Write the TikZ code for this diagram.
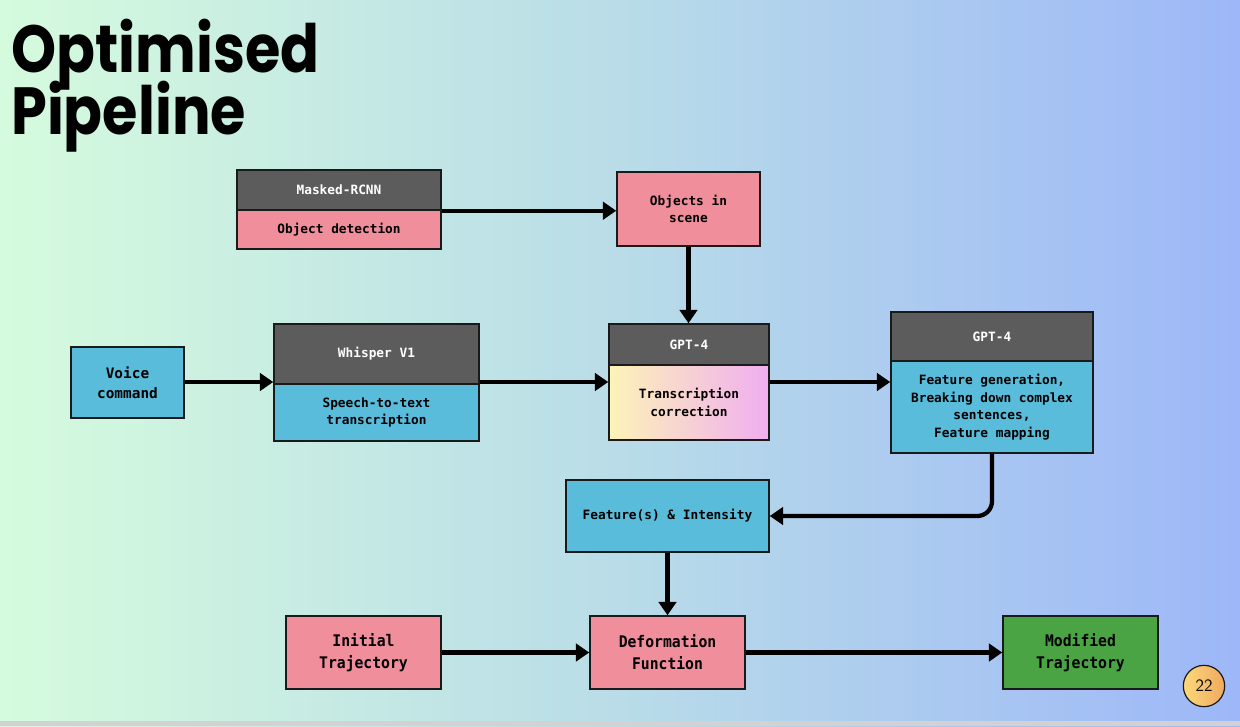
\documentclass[tikz,border=0pt]{standalone}
\usepackage{fontspec}
\setmonofont{DejaVu Sans Mono}
\newfontfamily\titlefont{Poppins}
\usetikzlibrary{arrows.meta,calc}
\definecolor{bgL}{HTML}{D5FBDE}
\definecolor{bgM}{HTML}{B9DCE8}
\definecolor{bgR}{HTML}{9DB7F8}
\definecolor{hdr}{HTML}{5C5C5C}
\definecolor{pinkbox}{HTML}{F08E9C}
\definecolor{bluebox}{HTML}{59BCDB}
\definecolor{greenbox}{HTML}{4AA444}
\definecolor{yelg}{HTML}{FDF3B8}
\definecolor{pnkg}{HTML}{F0AEF0}
\definecolor{circY}{HTML}{FCD97A}
\definecolor{circO}{HTML}{F0A860}
\definecolor{edge}{HTML}{1A1A1A}
\pgfdeclarehorizontalshading{bgshade}{100bp}{color(0bp)=(bgL); color(25bp)=(bgL); color(50bp)=(bgM); color(75bp)=(bgR); color(100bp)=(bgR)}
\tikzset{
  box/.style={draw=edge, line width=1.1pt, inner sep=0pt, align=center, font=\ttfamily\bfseries\fontsize{9.6}{13.2}\selectfont, text=black},
  hdrbox/.style={box, fill=hdr, text=white},
  pinkb/.style={box, fill=pinkbox},
  blueb/.style={box, fill=bluebox},
  greenb/.style={box, fill=greenbox},
  midtxt/.style={font=\ttfamily\bfseries\fontsize{10.8}{15}\selectfont},
  bigtxt/.style={font=\ttfamily\bfseries\fontsize{12}{16.5}\selectfont},
  arr/.style={line width=3.2pt, -{Triangle[length=10pt,width=13pt]}},
  titletxt/.style={anchor=base west, inner sep=0pt, font=\titlefont\bfseries\fontsize{50}{55}\selectfont}
}
\newcommand{\cond}[1]{\scalebox{0.92}[1]{#1}}
% \bx{name}{x1}{y1}{x2}{y2}{style}{text}
\newcommand{\bx}[7]{\node[#6, minimum width={(#4-#2)*0.75pt}, minimum height={(#5-#3)*0.75pt}] (#1) at ({(#2+#4)/2},{(#3+#5)/2}) {#7};}
\begin{document}
\begin{tikzpicture}[x=0.75pt,y=-0.75pt]
\useasboundingbox (0,0) rectangle (1240,726);
\shade[shading=bgshade] (0,0) rectangle (1240,726);
\fill[gray!35] (0,721) rectangle (1240,726);

% title
\node[titletxt] (t1) at (11,72) {\scalebox{0.86}[1]{Optimised}};
\node[titletxt] (t2) at (11,134) {\scalebox{0.86}[1]{Pipeline}};

% Masked-RCNN
\bx{mrH}{237}{170}{441}{210}{hdrbox}{Masked-RCNN}
\bx{mrB}{237}{210}{441}{249}{pinkb}{Object detection}
\bx{objs}{617}{172}{760}{246}{pinkb}{Objects in\\scene}

% row 2
\bx{voice}{71}{347}{184}{418}{blueb,midtxt}{Voice\\command}
\bx{whH}{274}{324}{479}{384}{hdrbox}{Whisper V1}
\bx{whB}{274}{384}{479}{441}{blueb}{Speech-to-text\\transcription}
\bx{g1H}{609}{324}{769}{365}{hdrbox}{GPT-4}
\bx{g1B}{609}{365}{769}{440}{box,left color=yelg,right color=pnkg}{Transcription\\correction}
\bx{g2H}{891}{312}{1093}{361}{hdrbox}{GPT-4}
\bx{g2B}{891}{361}{1093}{453}{blueb}{Feature generation,\\Breaking down complex\\sentences,\\Feature mapping}

% row 3
\bx{feat}{566}{480}{769}{552}{blueb}{Feature(s) \& Intensity}

% row 4
\bx{init}{286}{616}{441}{689}{pinkb,bigtxt}{\cond{Initial}\\\cond{Trajectory}}
\bx{def}{590}{616}{745}{689}{pinkb,bigtxt}{\cond{Deformation}\\\cond{Function}}
\bx{mod}{1003}{616}{1158}{689}{greenb,bigtxt}{\cond{Modified}\\\cond{Trajectory}}

% page number
\node[circle, draw=edge, line width=0.9pt, left color=circY, right color=circO, minimum size=31pt, inner sep=0pt, font=\sffamily\fontsize{13}{15}\selectfont] (pg) at (1204,686) {22};

% connectors
\coordinate (r2) at (0,382);
\draw[arr] (mrH.south east) -- (mrH.south east -| objs.west);
\draw[arr] (objs.south) -- (objs.south |- g1H.north);
\draw[arr] (r2 -| voice.east) -- (r2 -| whH.west);
\draw[arr] (r2 -| whB.east) -- (r2 -| g1B.west);
\draw[arr] (r2 -| g1B.east) -- (r2 -| g2B.west);
\draw[arr, rounded corners=11pt] (g2B.south) |- (feat.east);
\draw[arr] (feat.south) -- (feat.south |- def.north);
\draw[arr] (init.east) -- (def.west);
\draw[arr] (def.east) -- (mod.west);
\end{tikzpicture}
\end{document}
